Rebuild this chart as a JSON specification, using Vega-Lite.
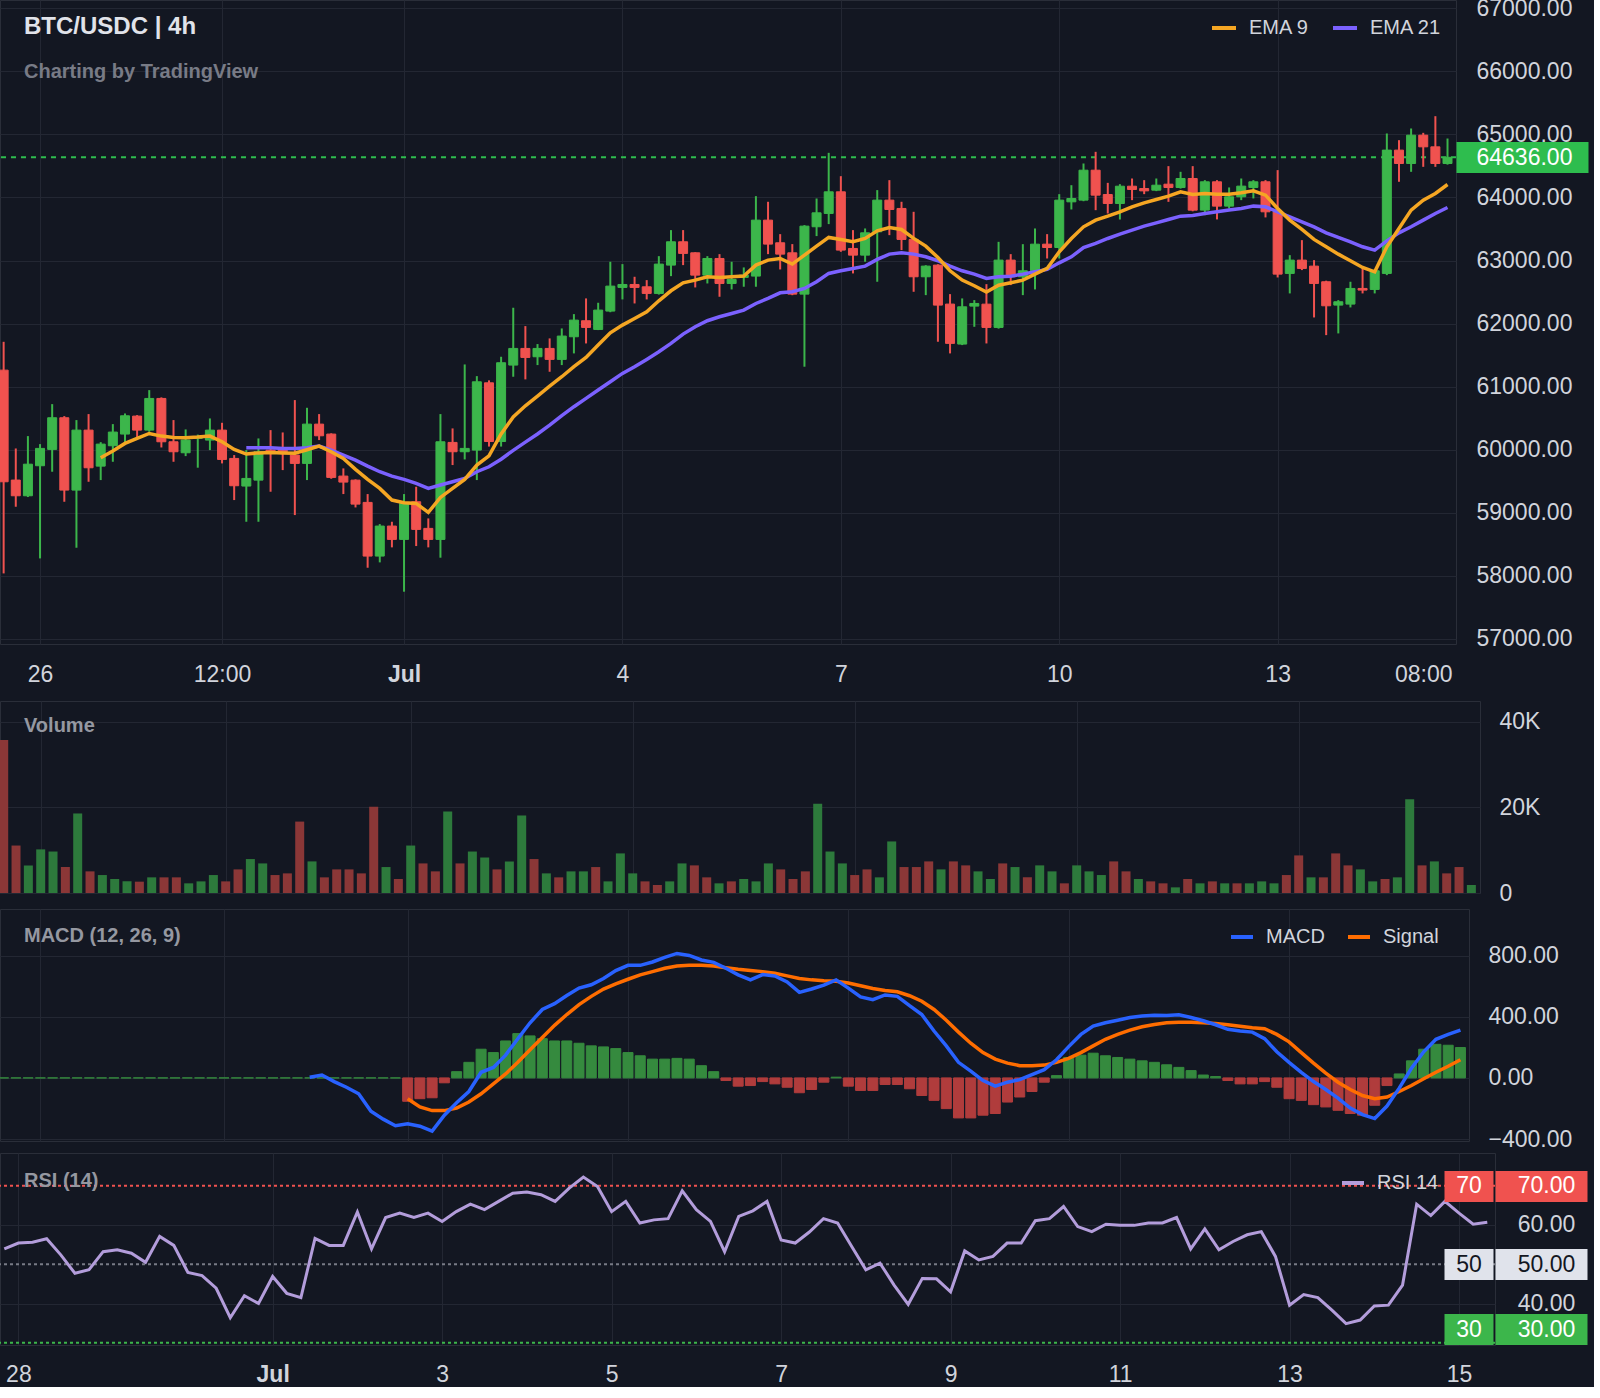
{
"$schema": "https://vega.github.io/schema/vega-lite/v6.json",
"background": "#131722",
"padding": {"left": -3, "top": -4, "right": -10, "bottom": 0},
"datasets": {
"lastprice": [{"price": 64636}],
"levels": [{"level": 70}, {"level": 50}, {"level": 30}],
"candles": [
{"t":"2024-06-25T12:00Z","o":61262,"h":61711,"l":58039,"c":59492,"v":35800,"e9":null,"e21":null,"macd":null,"sig":null,"hist":0,"rsi":null},
{"t":"2024-06-25T16:00Z","o":59519,"h":60020,"l":59096,"c":59270,"v":11100,"e9":null,"e21":null,"macd":null,"sig":null,"hist":0,"rsi":null},
{"t":"2024-06-25T20:00Z","o":59270,"h":60216,"l":59250,"c":59771,"v":6460,"e9":null,"e21":null,"macd":null,"sig":null,"hist":0,"rsi":null},
{"t":"2024-06-26T00:00Z","o":59746,"h":60089,"l":58277,"c":60021,"v":10200,"e9":null,"e21":null,"macd":null,"sig":null,"hist":0,"rsi":null},
{"t":"2024-06-26T04:00Z","o":60005,"h":60723,"l":59651,"c":60507,"v":9700,"e9":null,"e21":null,"macd":null,"sig":null,"hist":0,"rsi":null},
{"t":"2024-06-26T08:00Z","o":60507,"h":60533,"l":59175,"c":59360,"v":6070,"e9":null,"e21":null,"macd":null,"sig":null,"hist":0,"rsi":null},
{"t":"2024-06-26T12:00Z","o":59360,"h":60470,"l":58446,"c":60311,"v":18600,"e9":null,"e21":null,"macd":null,"sig":null,"hist":0,"rsi":null},
{"t":"2024-06-26T16:00Z","o":60311,"h":60565,"l":59492,"c":59714,"v":5060,"e9":null,"e21":null,"macd":null,"sig":null,"hist":0,"rsi":null},
{"t":"2024-06-26T20:00Z","o":59740,"h":60120,"l":59519,"c":60089,"v":4200,"e9":59873,"e21":null,"macd":null,"sig":null,"hist":0,"rsi":null},
{"t":"2024-06-27T00:00Z","o":60063,"h":60406,"l":59809,"c":60280,"v":3270,"e9":59980,"e21":null,"macd":null,"sig":null,"hist":0,"rsi":null},
{"t":"2024-06-27T04:00Z","o":60248,"h":60575,"l":60100,"c":60538,"v":2720,"e9":60100,"e21":null,"macd":null,"sig":null,"hist":0,"rsi":null},
{"t":"2024-06-27T08:00Z","o":60533,"h":60549,"l":60179,"c":60311,"v":2650,"e9":60180,"e21":null,"macd":null,"sig":null,"hist":0,"rsi":null},
{"t":"2024-06-27T12:00Z","o":60311,"h":60945,"l":60285,"c":60813,"v":3660,"e9":60258,"e21":null,"macd":null,"sig":null,"hist":0,"rsi":null},
{"t":"2024-06-27T16:00Z","o":60813,"h":60830,"l":60036,"c":60126,"v":3660,"e9":60216,"e21":null,"macd":null,"sig":null,"hist":0,"rsi":null},
{"t":"2024-06-27T20:00Z","o":60126,"h":60470,"l":59809,"c":59968,"v":3660,"e9":60195,"e21":null,"macd":null,"sig":null,"hist":0,"rsi":53.9},
{"t":"2024-06-28T00:00Z","o":59952,"h":60322,"l":59899,"c":60153,"v":2260,"e9":60190,"e21":null,"macd":null,"sig":null,"hist":0,"rsi":55.4},
{"t":"2024-06-28T04:00Z","o":60180,"h":60240,"l":59715,"c":60200,"v":2720,"e9":60200,"e21":null,"macd":null,"sig":null,"hist":0,"rsi":55.6},
{"t":"2024-06-28T08:00Z","o":60153,"h":60496,"l":59994,"c":60311,"v":4200,"e9":60216,"e21":null,"macd":null,"sig":null,"hist":0,"rsi":56.5},
{"t":"2024-06-28T12:00Z","o":60311,"h":60427,"l":59783,"c":59846,"v":2720,"e9":60126,"e21":null,"macd":null,"sig":null,"hist":0,"rsi":52.4},
{"t":"2024-06-28T16:00Z","o":59862,"h":59915,"l":59202,"c":59429,"v":5520,"e9":60005,"e21":null,"macd":null,"sig":null,"hist":0,"rsi":47.7},
{"t":"2024-06-28T20:00Z","o":59424,"h":59994,"l":58858,"c":59545,"v":7940,"e9":59931,"e21":60031,"macd":null,"sig":null,"hist":0,"rsi":48.6},
{"t":"2024-06-29T00:00Z","o":59518,"h":60179,"l":58858,"c":59968,"v":6920,"e9":59950,"e21":60031,"macd":null,"sig":null,"hist":0,"rsi":53.2},
{"t":"2024-06-29T04:00Z","o":59994,"h":60311,"l":59334,"c":59952,"v":4200,"e9":59955,"e21":60031,"macd":null,"sig":null,"hist":0,"rsi":53.7},
{"t":"2024-06-29T08:00Z","o":59994,"h":60274,"l":59677,"c":59941,"v":4590,"e9":59950,"e21":60021,"macd":null,"sig":null,"hist":0,"rsi":52.8},
{"t":"2024-06-29T12:00Z","o":59915,"h":60787,"l":58964,"c":59783,"v":16700,"e9":59945,"e21":60021,"macd":null,"sig":null,"hist":0,"rsi":50.5},
{"t":"2024-06-29T16:00Z","o":59783,"h":60665,"l":59519,"c":60406,"v":7390,"e9":60000,"e21":60031,"macd":4,"sig":null,"hist":0,"rsi":57.1},
{"t":"2024-06-29T20:00Z","o":60406,"h":60565,"l":60153,"c":60221,"v":3660,"e9":60057,"e21":60057,"macd":19,"sig":null,"hist":0,"rsi":54.8},
{"t":"2024-06-30T00:00Z","o":60248,"h":60260,"l":59540,"c":59561,"v":5520,"e9":59968,"e21":59994,"macd":-24,"sig":null,"hist":0,"rsi":47.9},
{"t":"2024-06-30T04:00Z","o":59582,"h":59704,"l":59297,"c":59487,"v":5520,"e9":59862,"e21":59915,"macd":-61,"sig":null,"hist":0,"rsi":47.1},
{"t":"2024-06-30T08:00Z","o":59518,"h":59530,"l":59085,"c":59138,"v":4590,"e9":59688,"e21":59836,"macd":-104,"sig":null,"hist":0,"rsi":43.9},
{"t":"2024-06-30T12:00Z","o":59165,"h":59297,"l":58129,"c":58314,"v":20150,"e9":59529,"e21":59740,"macd":-218,"sig":null,"hist":0,"rsi":36.4},
{"t":"2024-06-30T16:00Z","o":58314,"h":58821,"l":58214,"c":58790,"v":6070,"e9":59387,"e21":59651,"macd":-270,"sig":null,"hist":0,"rsi":42.0},
{"t":"2024-06-30T20:00Z","o":58790,"h":58858,"l":58452,"c":58578,"v":3270,"e9":59202,"e21":59582,"macd":-313,"sig":null,"hist":0,"rsi":40.0},
{"t":"2024-07-01T00:00Z","o":58578,"h":59297,"l":57749,"c":59149,"v":11100,"e9":59160,"e21":59529,"macd":-300,"sig":-136,"hist":-153,"rsi":46.9},
{"t":"2024-07-01T04:00Z","o":59175,"h":59413,"l":58473,"c":58737,"v":6920,"e9":59149,"e21":59466,"macd":-316,"sig":-190,"hist":-136,"rsi":42.6},
{"t":"2024-07-01T08:00Z","o":58753,"h":58911,"l":58452,"c":58578,"v":5060,"e9":59006,"e21":59387,"macd":-348,"sig":-214,"hist":-130,"rsi":41.5},
{"t":"2024-07-01T12:00Z","o":58578,"h":60565,"l":58288,"c":60126,"v":19060,"e9":59244,"e21":59440,"macd":-244,"sig":-214,"hist":-32,"rsi":56.6},
{"t":"2024-07-01T16:00Z","o":60116,"h":60338,"l":59757,"c":59968,"v":6920,"e9":59387,"e21":59492,"macd":-162,"sig":-197,"hist":41,"rsi":54.8},
{"t":"2024-07-01T20:00Z","o":59968,"h":61352,"l":59846,"c":60021,"v":9700,"e9":59529,"e21":59545,"macd":-89,"sig":-158,"hist":102,"rsi":54.8},
{"t":"2024-07-02T00:00Z","o":59994,"h":61167,"l":59519,"c":61077,"v":8300,"e9":59756,"e21":59651,"macd":37,"sig":-104,"hist":188,"rsi":63.3},
{"t":"2024-07-02T04:00Z","o":61061,"h":61100,"l":60050,"c":60130,"v":5520,"e9":59904,"e21":59730,"macd":69,"sig":-39,"hist":166,"rsi":53.9},
{"t":"2024-07-02T08:00Z","o":60130,"h":61474,"l":60050,"c":61379,"v":7390,"e9":60250,"e21":59850,"macd":149,"sig":26,"hist":242,"rsi":61.9},
{"t":"2024-07-02T12:00Z","o":61342,"h":62251,"l":61157,"c":61606,"v":18130,"e9":60520,"e21":59990,"macd":257,"sig":102,"hist":290,"rsi":63.0},
{"t":"2024-07-02T16:00Z","o":61606,"h":61960,"l":61115,"c":61463,"v":7940,"e9":60697,"e21":60120,"macd":361,"sig":184,"hist":275,"rsi":61.9},
{"t":"2024-07-02T20:00Z","o":61474,"h":61675,"l":61342,"c":61606,"v":4590,"e9":60850,"e21":60250,"macd":448,"sig":264,"hist":257,"rsi":63.0},
{"t":"2024-07-03T00:00Z","o":61606,"h":61765,"l":61236,"c":61432,"v":3660,"e9":61009,"e21":60390,"macd":486,"sig":344,"hist":242,"rsi":60.9},
{"t":"2024-07-03T04:00Z","o":61432,"h":61923,"l":61342,"c":61802,"v":5060,"e9":61157,"e21":60540,"macd":540,"sig":415,"hist":242,"rsi":63.4},
{"t":"2024-07-03T08:00Z","o":61791,"h":62150,"l":61527,"c":62055,"v":5060,"e9":61316,"e21":60682,"macd":588,"sig":480,"hist":227,"rsi":65.3},
{"t":"2024-07-03T12:00Z","o":62045,"h":62399,"l":61685,"c":61939,"v":6070,"e9":61463,"e21":60814,"macd":610,"sig":534,"hist":210,"rsi":63.9},
{"t":"2024-07-03T16:00Z","o":61907,"h":62330,"l":61897,"c":62214,"v":2720,"e9":61659,"e21":60946,"macd":651,"sig":582,"hist":203,"rsi":66.0},
{"t":"2024-07-03T20:00Z","o":62198,"h":62980,"l":62180,"c":62594,"v":9260,"e9":61854,"e21":61078,"macd":703,"sig":616,"hist":192,"rsi":68.1},
{"t":"2024-07-04T00:00Z","o":62573,"h":62943,"l":62383,"c":62620,"v":4590,"e9":61976,"e21":61210,"macd":737,"sig":646,"hist":166,"rsi":68.4},
{"t":"2024-07-04T04:00Z","o":62620,"h":62742,"l":62319,"c":62573,"v":2720,"e9":62081,"e21":61316,"macd":737,"sig":675,"hist":145,"rsi":67.7},
{"t":"2024-07-04T08:00Z","o":62583,"h":62689,"l":62383,"c":62478,"v":1870,"e9":62187,"e21":61432,"macd":759,"sig":696,"hist":123,"rsi":66.0},
{"t":"2024-07-04T12:00Z","o":62478,"h":63069,"l":62460,"c":62943,"v":2720,"e9":62361,"e21":61553,"macd":789,"sig":718,"hist":123,"rsi":69.4},
{"t":"2024-07-04T16:00Z","o":62927,"h":63482,"l":62752,"c":63297,"v":6920,"e9":62520,"e21":61685,"macd":815,"sig":733,"hist":128,"rsi":72.2},
{"t":"2024-07-04T20:00Z","o":63297,"h":63482,"l":62927,"c":63112,"v":6460,"e9":62647,"e21":61833,"macd":802,"sig":737,"hist":123,"rsi":69.8},
{"t":"2024-07-05T00:00Z","o":63122,"h":63130,"l":62573,"c":62768,"v":3660,"e9":62689,"e21":61950,"macd":772,"sig":737,"hist":80,"rsi":63.4},
{"t":"2024-07-05T04:00Z","o":62768,"h":63069,"l":62636,"c":63032,"v":2260,"e9":62742,"e21":62045,"macd":757,"sig":733,"hist":41,"rsi":66.0},
{"t":"2024-07-05T08:00Z","o":63032,"h":63101,"l":62425,"c":62636,"v":2720,"e9":62731,"e21":62108,"macd":718,"sig":722,"hist":-17,"rsi":60.5},
{"t":"2024-07-05T12:00Z","o":62636,"h":62980,"l":62541,"c":62700,"v":3270,"e9":62742,"e21":62160,"macd":675,"sig":711,"hist":-54,"rsi":61.3},
{"t":"2024-07-05T16:00Z","o":62732,"h":62890,"l":62584,"c":62768,"v":2720,"e9":62753,"e21":62214,"macd":642,"sig":703,"hist":-50,"rsi":61.6},
{"t":"2024-07-05T20:00Z","o":62753,"h":64020,"l":62584,"c":63640,"v":6920,"e9":62927,"e21":62319,"macd":677,"sig":696,"hist":-24,"rsi":68.7},
{"t":"2024-07-06T00:00Z","o":63640,"h":63931,"l":63101,"c":63260,"v":5520,"e9":63006,"e21":62399,"macd":668,"sig":685,"hist":-39,"rsi":63.9},
{"t":"2024-07-06T04:00Z","o":63281,"h":63418,"l":62858,"c":63101,"v":3270,"e9":63032,"e21":62488,"macd":629,"sig":668,"hist":-61,"rsi":60.9},
{"t":"2024-07-06T08:00Z","o":63122,"h":63260,"l":62450,"c":62467,"v":5060,"e9":62943,"e21":62504,"macd":560,"sig":651,"hist":-97,"rsi":53.2},
{"t":"2024-07-06T12:00Z","o":62467,"h":63561,"l":61316,"c":63545,"v":20900,"e9":63085,"e21":62557,"macd":582,"sig":642,"hist":-76,"rsi":62.2},
{"t":"2024-07-06T16:00Z","o":63535,"h":63983,"l":63387,"c":63756,"v":9700,"e9":63228,"e21":62663,"macd":608,"sig":636,"hist":-28,"rsi":63.6},
{"t":"2024-07-06T20:00Z","o":63746,"h":64707,"l":63577,"c":64089,"v":6920,"e9":63366,"e21":62795,"macd":642,"sig":633,"hist":5,"rsi":66.0},
{"t":"2024-07-07T00:00Z","o":64089,"h":64337,"l":63138,"c":63165,"v":4200,"e9":63334,"e21":62837,"macd":588,"sig":621,"hist":-54,"rsi":56.2},
{"t":"2024-07-07T04:00Z","o":63191,"h":63482,"l":62795,"c":63085,"v":5520,"e9":63297,"e21":62874,"macd":530,"sig":603,"hist":-82,"rsi":55.4},
{"t":"2024-07-07T08:00Z","o":63085,"h":63508,"l":62980,"c":63439,"v":3660,"e9":63350,"e21":62911,"macd":512,"sig":586,"hist":-82,"rsi":58.2},
{"t":"2024-07-07T12:00Z","o":63455,"h":64116,"l":62663,"c":63957,"v":12060,"e9":63471,"e21":63017,"macd":543,"sig":573,"hist":-43,"rsi":61.6},
{"t":"2024-07-07T16:00Z","o":63957,"h":64274,"l":63402,"c":63809,"v":6070,"e9":63524,"e21":63101,"macd":534,"sig":564,"hist":-43,"rsi":60.5},
{"t":"2024-07-07T20:00Z","o":63825,"h":63931,"l":63165,"c":63334,"v":6070,"e9":63492,"e21":63122,"macd":473,"sig":538,"hist":-71,"rsi":54.5},
{"t":"2024-07-08T00:00Z","o":63334,"h":63772,"l":62504,"c":62742,"v":7390,"e9":63350,"e21":63101,"macd":415,"sig":502,"hist":-115,"rsi":48.6},
{"t":"2024-07-08T04:00Z","o":62742,"h":62925,"l":62451,"c":62911,"v":5520,"e9":63228,"e21":63059,"macd":307,"sig":448,"hist":-147,"rsi":50.3},
{"t":"2024-07-08T08:00Z","o":62927,"h":62940,"l":61712,"c":62293,"v":7390,"e9":63048,"e21":62996,"macd":210,"sig":378,"hist":-201,"rsi":44.7},
{"t":"2024-07-08T12:00Z","o":62309,"h":62467,"l":61527,"c":61686,"v":6460,"e9":62837,"e21":62911,"macd":102,"sig":300,"hist":-262,"rsi":39.8},
{"t":"2024-07-08T16:00Z","o":61675,"h":62399,"l":61659,"c":62266,"v":5060,"e9":62689,"e21":62837,"macd":45,"sig":227,"hist":-262,"rsi":46.4},
{"t":"2024-07-08T20:00Z","o":62277,"h":62372,"l":61949,"c":62319,"v":3270,"e9":62600,"e21":62784,"macd":-17,"sig":166,"hist":-244,"rsi":46.3},
{"t":"2024-07-09T00:00Z","o":62308,"h":62625,"l":61685,"c":61939,"v":6920,"e9":62500,"e21":62715,"macd":-54,"sig":123,"hist":-233,"rsi":43.0},
{"t":"2024-07-09T04:00Z","o":61939,"h":63296,"l":61920,"c":63006,"v":6070,"e9":62609,"e21":62741,"macd":-28,"sig":97,"hist":-158,"rsi":53.4},
{"t":"2024-07-09T08:00Z","o":63006,"h":63101,"l":62610,"c":62742,"v":3660,"e9":62646,"e21":62752,"macd":-11,"sig":80,"hist":-125,"rsi":51.1},
{"t":"2024-07-09T12:00Z","o":62742,"h":63259,"l":62451,"c":62837,"v":6460,"e9":62689,"e21":62784,"macd":22,"sig":80,"hist":-89,"rsi":52.0},
{"t":"2024-07-09T16:00Z","o":62837,"h":63508,"l":62541,"c":63259,"v":5060,"e9":62784,"e21":62821,"macd":54,"sig":84,"hist":-28,"rsi":55.4},
{"t":"2024-07-09T20:00Z","o":63259,"h":63418,"l":63032,"c":63206,"v":2260,"e9":62874,"e21":62858,"macd":119,"sig":102,"hist":15,"rsi":55.4},
{"t":"2024-07-10T00:00Z","o":63206,"h":64052,"l":63032,"c":63957,"v":6460,"e9":63138,"e21":62963,"macd":205,"sig":128,"hist":134,"rsi":61.1},
{"t":"2024-07-10T04:00Z","o":63930,"h":64194,"l":63809,"c":63983,"v":5060,"e9":63349,"e21":63058,"macd":285,"sig":166,"hist":149,"rsi":61.6},
{"t":"2024-07-10T08:00Z","o":63957,"h":64538,"l":63940,"c":64432,"v":4200,"e9":63534,"e21":63206,"macd":339,"sig":210,"hist":162,"rsi":64.7},
{"t":"2024-07-10T12:00Z","o":64432,"h":64723,"l":63798,"c":64036,"v":7390,"e9":63640,"e21":63270,"macd":361,"sig":253,"hist":145,"rsi":59.6},
{"t":"2024-07-10T16:00Z","o":64046,"h":64231,"l":63745,"c":63904,"v":5060,"e9":63703,"e21":63349,"macd":378,"sig":285,"hist":134,"rsi":58.3},
{"t":"2024-07-10T20:00Z","o":63904,"h":64210,"l":63650,"c":64178,"v":3270,"e9":63772,"e21":63418,"macd":396,"sig":313,"hist":123,"rsi":60.2},
{"t":"2024-07-11T00:00Z","o":64178,"h":64300,"l":63957,"c":64126,"v":2720,"e9":63851,"e21":63481,"macd":406,"sig":335,"hist":112,"rsi":59.9},
{"t":"2024-07-11T04:00Z","o":64141,"h":64274,"l":64052,"c":64104,"v":2260,"e9":63914,"e21":63545,"macd":411,"sig":350,"hist":102,"rsi":59.9},
{"t":"2024-07-11T08:00Z","o":64115,"h":64300,"l":64100,"c":64194,"v":1320,"e9":63967,"e21":63597,"macd":409,"sig":361,"hist":86,"rsi":60.5},
{"t":"2024-07-11T12:00Z","o":64210,"h":64496,"l":63930,"c":64157,"v":3270,"e9":64020,"e21":63650,"macd":413,"sig":365,"hist":69,"rsi":60.5},
{"t":"2024-07-11T16:00Z","o":64157,"h":64406,"l":64140,"c":64300,"v":2260,"e9":64089,"e21":63703,"macd":396,"sig":365,"hist":48,"rsi":61.9},
{"t":"2024-07-11T20:00Z","o":64300,"h":64496,"l":63780,"c":63798,"v":2720,"e9":64046,"e21":63714,"macd":374,"sig":361,"hist":19,"rsi":53.9},
{"t":"2024-07-12T00:00Z","o":63799,"h":64274,"l":63719,"c":64248,"v":2260,"e9":64062,"e21":63745,"macd":348,"sig":357,"hist":9,"rsi":59.0},
{"t":"2024-07-12T04:00Z","o":64248,"h":64274,"l":63651,"c":63862,"v":2260,"e9":64052,"e21":63772,"macd":318,"sig":348,"hist":-17,"rsi":53.7},
{"t":"2024-07-12T08:00Z","o":63862,"h":64158,"l":63825,"c":64010,"v":2260,"e9":64052,"e21":63799,"macd":307,"sig":339,"hist":-39,"rsi":55.8},
{"t":"2024-07-12T12:00Z","o":64010,"h":64300,"l":63957,"c":64179,"v":2720,"e9":64073,"e21":63825,"macd":300,"sig":329,"hist":-39,"rsi":57.5},
{"t":"2024-07-12T16:00Z","o":64158,"h":64274,"l":63984,"c":64248,"v":2260,"e9":64105,"e21":63862,"macd":257,"sig":322,"hist":-24,"rsi":58.3},
{"t":"2024-07-12T20:00Z","o":64248,"h":64274,"l":63683,"c":63772,"v":4200,"e9":64036,"e21":63851,"macd":171,"sig":285,"hist":-61,"rsi":52.0},
{"t":"2024-07-13T00:00Z","o":63772,"h":64433,"l":62731,"c":62784,"v":8790,"e9":63825,"e21":63772,"macd":102,"sig":236,"hist":-136,"rsi":39.6},
{"t":"2024-07-13T04:00Z","o":62795,"h":63085,"l":62478,"c":63006,"v":3660,"e9":63640,"e21":63693,"macd":37,"sig":166,"hist":-147,"rsi":42.3},
{"t":"2024-07-13T08:00Z","o":63006,"h":63323,"l":62848,"c":62874,"v":3660,"e9":63492,"e21":63614,"macd":-24,"sig":97,"hist":-175,"rsi":41.5},
{"t":"2024-07-13T12:00Z","o":62911,"h":63006,"l":62097,"c":62636,"v":9260,"e9":63334,"e21":63534,"macd":-76,"sig":32,"hist":-190,"rsi":38.3},
{"t":"2024-07-13T16:00Z","o":62663,"h":62680,"l":61817,"c":62282,"v":6460,"e9":63217,"e21":63439,"macd":-132,"sig":-28,"hist":-212,"rsi":34.9},
{"t":"2024-07-13T20:00Z","o":62293,"h":62372,"l":61844,"c":62346,"v":5520,"e9":63101,"e21":63365,"macd":-197,"sig":-76,"hist":-233,"rsi":35.8},
{"t":"2024-07-14T00:00Z","o":62309,"h":62663,"l":62256,"c":62557,"v":2720,"e9":62996,"e21":63297,"macd":-240,"sig":-115,"hist":-244,"rsi":39.4},
{"t":"2024-07-14T04:00Z","o":62557,"h":62874,"l":62478,"c":62531,"v":3270,"e9":62890,"e21":63217,"macd":-266,"sig":-136,"hist":-179,"rsi":39.6},
{"t":"2024-07-14T08:00Z","o":62541,"h":62858,"l":62478,"c":62837,"v":3660,"e9":62821,"e21":63165,"macd":-184,"sig":-125,"hist":-50,"rsi":44.7},
{"t":"2024-07-14T12:00Z","o":62795,"h":65014,"l":62768,"c":64750,"v":21940,"e9":63217,"e21":63312,"macd":-67,"sig":-89,"hist":26,"rsi":65.3},
{"t":"2024-07-14T16:00Z","o":64750,"h":64908,"l":64248,"c":64538,"v":6460,"e9":63508,"e21":63439,"macd":63,"sig":-50,"hist":112,"rsi":62.4},
{"t":"2024-07-14T20:00Z","o":64538,"h":65093,"l":64406,"c":64987,"v":7390,"e9":63799,"e21":63534,"macd":171,"sig":-6,"hist":188,"rsi":66.0},
{"t":"2024-07-15T00:00Z","o":64987,"h":65024,"l":64485,"c":64802,"v":4590,"e9":63957,"e21":63640,"macd":253,"sig":37,"hist":220,"rsi":63.0},
{"t":"2024-07-15T04:00Z","o":64802,"h":65288,"l":64485,"c":64538,"v":6070,"e9":64063,"e21":63746,"macd":285,"sig":76,"hist":214,"rsi":60.2},
{"t":"2024-07-15T08:00Z","o":64538,"h":64934,"l":64520,"c":64636,"v":1870,"e9":64205,"e21":63841,"macd":313,"sig":119,"hist":199,"rsi":60.7}
]
},
"spacing": 13,
"vconcat": [
{
"width": 1456, "height": 644,
"title": {"text": "BTC/USDC | 4h", "subtitle": "Charting by TradingView", "offset": -85, "dx": 24, "fontSize": 24, "fontWeight": "bold", "color": "#e1e3ea", "subtitleFont": "Liberation Sans", "subtitleFontSize": 20, "subtitleFontWeight": "bold", "subtitleColor": "#787b86", "subtitlePadding": 23},
"layer": [
{
"data": {"name": "lastprice"},
"mark": {"type": "rule", "color": "#2ebd4e", "strokeWidth": 2, "strokeDash": [5, 5]},
"encoding": {
"y": {"field": "price", "type": "quantitative", "title": null, "scale": {"domain": [56920, 67130], "zero": false, "nice": false},
"axis": {"orient": "right", "values": [64636], "format": ".2f", "grid": false, "ticks": true, "tickSize": 132, "tickWidth": 31, "tickColor": "#2ebd4e", "labelPadding": -112, "labelColor": "#ffffff", "zindex": 1}}
}
},
{
"data": {"name": "candles"},
"layer": [
{
"mark": {"type": "rule", "strokeWidth": 2},
"encoding": {
"x": {"field": "t", "type": "temporal", "title": null,
"scale": {"type": "utc", "padding": 0, "domain": [{"year": 2024, "month": "jun", "date": 25, "hours": 10, "minutes": 48, "utc": true}, {"year": 2024, "month": "jul", "date": 15, "hours": 10, "minutes": 48, "utc": true}]},
"axis": {"values": [{"year": 2024, "month": "jun", "date": 26, "utc": true}, {"year": 2024, "month": "jun", "date": 28, "hours": 12, "utc": true}, {"year": 2024, "month": "jul", "date": 1, "utc": true}, {"year": 2024, "month": "jul", "date": 4, "utc": true}, {"year": 2024, "month": "jul", "date": 7, "utc": true}, {"year": 2024, "month": "jul", "date": 10, "utc": true}, {"year": 2024, "month": "jul", "date": 13, "utc": true}, {"year": 2024, "month": "jul", "date": 15, "utc": true}],
"labelExpr": "utchours(datum.value) == 12 ? '12:00' : utcdate(datum.value) == 15 ? '08:00' : utcdate(datum.value) == 1 ? 'Jul' : utcFormat(datum.value, '%-d')",
"labelFontWeight": {"condition": {"test": "utcdate(datum.value) == 1", "value": "bold"}, "value": "normal"},
"labelPadding": 19, "labelFlush": false, "labelOverlap": false, "grid": true,
"gridOpacity": {"condition": {"test": "utcdate(datum.value) == 15", "value": 0}, "value": 1}}},
"y": {"field": "l", "type": "quantitative", "title": null, "scale": {"domain": [56920, 67130], "zero": false, "nice": false},
"axis": {"orient": "right", "values": [57000, 58000, 59000, 60000, 61000, 62000, 63000, 64000, 65000, 66000, 67000], "format": ".2f", "labelPadding": 20, "grid": true, "labelOverlap": false}},
"y2": {"field": "h"},
"stroke": {"condition": {"test": "datum.c >= datum.o", "value": "#3cb64b"}, "value": "#f0524f"}
}
},
{
"mark": {"type": "bar", "width": 9, "strokeWidth": 1},
"encoding": {
"x": {"field": "t", "type": "temporal"},
"y": {"field": "o", "type": "quantitative", "title": null},
"y2": {"field": "c"},
"fill": {"condition": {"test": "datum.c >= datum.o", "value": "#3cb64b"}, "value": "#f0524f"},
"stroke": {"condition": {"test": "datum.c >= datum.o", "value": "#3cb64b"}, "value": "#f0524f"}
}
},
{
"mark": {"type": "line", "strokeWidth": 3.5},
"encoding": {
"x": {"field": "t", "type": "temporal"},
"y": {"field": "e21", "type": "quantitative", "title": null},
"color": {"datum": "EMA 21", "type": "nominal"}
}
},
{
"mark": {"type": "line", "strokeWidth": 3.5},
"encoding": {
"x": {"field": "t", "type": "temporal"},
"y": {"field": "e9", "type": "quantitative", "title": null},
"color": {"datum": "EMA 9", "type": "nominal", "scale": {"domain": ["EMA 9", "EMA 21"], "range": ["#f5a623", "#7b61ff"]},
"legend": {"orient": "none", "legendX": 1210, "legendY": 14, "direction": "horizontal", "title": null, "symbolSize": 576}}
}
}
]
}
],
"resolve": {"scale": {"y": "independent"}}
},
{
"spacing": 2,
"vconcat": [
{
"width": 1480, "height": 192,
"title": {"text": "Volume", "offset": -35, "dx": 24, "fontSize": 20, "fontWeight": "bold", "color": "#9598a1"},
"data": {"name": "candles"},
"mark": {"type": "bar", "width": 9},
"encoding": {
"x": {"field": "t", "type": "temporal", "title": null,
"scale": {"type": "utc", "padding": 0, "domain": [{"year": 2024, "month": "jun", "date": 25, "hours": 10, "minutes": 48, "utc": true}, {"year": 2024, "month": "jul", "date": 15, "hours": 10, "minutes": 48, "utc": true}]},
"axis": {"values": [{"year": 2024, "month": "jun", "date": 26, "utc": true}, {"year": 2024, "month": "jun", "date": 28, "hours": 12, "utc": true}, {"year": 2024, "month": "jul", "date": 1, "utc": true}, {"year": 2024, "month": "jul", "date": 4, "utc": true}, {"year": 2024, "month": "jul", "date": 7, "utc": true}, {"year": 2024, "month": "jul", "date": 10, "utc": true}, {"year": 2024, "month": "jul", "date": 13, "utc": true}], "labels": false, "grid": true}},
"y": {"field": "v", "type": "quantitative", "title": null, "scale": {"domain": [0, 44900], "nice": false},
"axis": {"orient": "right", "values": [0, 20000, 40000], "labelExpr": "datum.value == 0 ? '0' : (datum.value / 1000) + 'K'", "labelPadding": 19, "grid": true}},
"color": {"condition": {"test": "datum.c >= datum.o", "value": "#2d7a3c"}, "value": "#8b3737"}
}
},
{
"spacing": 0,
"vconcat": [
{
"width": 1469, "height": 232,
"title": {"text": "MACD (12, 26, 9)", "offset": -36.5, "dx": 24, "fontSize": 20, "fontWeight": "bold", "color": "#9598a1"},
"data": {"name": "candles"},
"layer": [
{
"mark": {"type": "bar", "width": 10, "strokeWidth": 1},
"encoding": {
"x": {"field": "t", "type": "temporal", "title": null,
"scale": {"type": "utc", "padding": 0, "domain": [{"year": 2024, "month": "jun", "date": 25, "hours": 10, "minutes": 48, "utc": true}, {"year": 2024, "month": "jul", "date": 15, "hours": 10, "minutes": 48, "utc": true}]},
"axis": {"values": [{"year": 2024, "month": "jun", "date": 26, "utc": true}, {"year": 2024, "month": "jun", "date": 28, "hours": 12, "utc": true}, {"year": 2024, "month": "jul", "date": 1, "utc": true}, {"year": 2024, "month": "jul", "date": 4, "utc": true}, {"year": 2024, "month": "jul", "date": 7, "utc": true}, {"year": 2024, "month": "jul", "date": 10, "utc": true}, {"year": 2024, "month": "jul", "date": 13, "utc": true}], "labels": false, "grid": true}},
"y": {"field": "hist", "type": "quantitative", "title": null, "scale": {"domain": [-413, 1106], "zero": false, "nice": false},
"axis": {"orient": "right", "values": [-400, 0, 400, 800], "format": ".2f", "labelPadding": 19, "grid": true}},
"y2": {"datum": 0},
"fill": {"condition": {"test": "datum.hist >= 0", "value": "#358a3e"}, "value": "#b03c3c"},
"stroke": {"condition": {"test": "datum.hist >= 0", "value": "#358a3e"}, "value": "#b03c3c"}
}
},
{
"mark": {"type": "line", "strokeWidth": 3.5},
"encoding": {
"x": {"field": "t", "type": "temporal"},
"y": {"field": "sig", "type": "quantitative", "title": null},
"color": {"datum": "Signal", "type": "nominal"}
}
},
{
"mark": {"type": "line", "strokeWidth": 3.5},
"encoding": {
"x": {"field": "t", "type": "temporal"},
"y": {"field": "macd", "type": "quantitative", "title": null},
"color": {"datum": "MACD", "type": "nominal", "scale": {"domain": ["MACD", "Signal"], "range": ["#2962ff", "#ff6d00"]},
"legend": {"orient": "none", "legendX": 1229, "legendY": 15, "direction": "horizontal", "title": null, "symbolSize": 484}}
}
}
]
},
{
"width": 1495, "height": 192,
"title": {"text": "RSI (14)", "offset": -38, "dx": 24, "fontSize": 20, "fontWeight": "bold", "color": "#9598a1"},
"layer": [
{
"data": {"name": "levels"},
"mark": {"type": "rule", "strokeWidth": 2, "strokeDash": [3, 3]},
"encoding": {
"y": {"field": "level", "type": "quantitative", "title": null, "scale": {"domain": [29.45, 78.32], "zero": false, "nice": false},
"axis": {"orient": "right", "offset": -51, "values": [33.4, 50, 70], "grid": false, "ticks": true, "tickSize": 49, "tickWidth": 31,
"tickColor": {"condition": [{"test": "datum.value == 70", "value": "#f0524f"}, {"test": "datum.value == 50", "value": "#e0e3eb"}], "value": "#3cb64b"},
"labelExpr": "datum.value < 35 ? '30' : format(datum.value, 'd')",
"labelAlign": "center", "labelPadding": -24.5, "labelOverlap": false,
"labelColor": {"condition": {"test": "datum.value == 50", "value": "#131722"}, "value": "#ffffff"}, "zindex": 1}},
"stroke": {"field": "level", "type": "nominal", "scale": {"domain": [70, 50, 30], "range": ["#f0524f", "#787b86", "#3cb64b"]}, "legend": null}
}
},
{
"data": {"name": "candles"},
"mark": {"type": "line", "strokeWidth": 3},
"encoding": {
"x": {"field": "t", "type": "temporal", "title": null,
"scale": {"type": "utc", "domain": [{"year": 2024, "month": "jun", "date": 27, "hours": 18, "minutes": 47, "utc": true}, {"year": 2024, "month": "jul", "date": 15, "hours": 10, "minutes": 11, "utc": true}]},
"axis": {"values": [{"year": 2024, "month": "jun", "date": 28, "utc": true}, {"year": 2024, "month": "jul", "date": 1, "utc": true}, {"year": 2024, "month": "jul", "date": 3, "utc": true}, {"year": 2024, "month": "jul", "date": 5, "utc": true}, {"year": 2024, "month": "jul", "date": 7, "utc": true}, {"year": 2024, "month": "jul", "date": 9, "utc": true}, {"year": 2024, "month": "jul", "date": 11, "utc": true}, {"year": 2024, "month": "jul", "date": 13, "utc": true}, {"year": 2024, "month": "jul", "date": 15, "utc": true}],
"labelExpr": "utcdate(datum.value) == 1 ? 'Jul' : utcFormat(datum.value, '%-d')",
"labelFontWeight": {"condition": {"test": "utcdate(datum.value) == 1", "value": "bold"}, "value": "normal"},
"labelPadding": 18, "labelFlush": false, "labelOverlap": false, "grid": true}},
"y": {"field": "rsi", "type": "quantitative", "title": null, "scale": {"domain": [29.45, 78.32], "zero": false, "nice": false},
"axis": {"orient": "right", "values": [33.4, 40, 50, 60, 70], "ticks": true, "tickSize": 92, "tickWidth": 31,
"labelExpr": "datum.value < 35 ? '30.00' : format(datum.value, '.2f')",
"tickColor": {"condition": [{"test": "datum.value == 70", "value": "#f0524f"}, {"test": "datum.value == 50", "value": "#e0e3eb"}, {"test": "datum.value < 35", "value": "#3cb64b"}], "value": "transparent"},
"labelAlign": "center", "labelPadding": -41, "labelOverlap": false,
"labelColor": {"condition": [{"test": "datum.value == 50", "value": "#131722"}, {"test": "datum.value == 70 || datum.value < 35", "value": "#ffffff"}], "value": "#d1d4dc"},
"grid": true, "gridOpacity": {"condition": {"test": "datum.value == 40 || datum.value == 60", "value": 1}, "value": 0}}},
"color": {"datum": "RSI 14", "type": "nominal", "scale": {"domain": ["RSI 14"], "range": ["#b39ddb"]},
"legend": {"orient": "none", "legendX": 1340, "legendY": 17, "title": null, "symbolSize": 484}}
}
}
],
"resolve": {"scale": {"y": "independent"}}
}
],
"resolve": {"scale": {"x": "independent", "y": "independent", "color": "independent", "fill": "independent", "stroke": "independent"}, "axis": {"x": "independent", "y": "independent"}, "legend": {"color": "independent", "stroke": "independent"}}
}
],
"resolve": {"scale": {"x": "independent", "y": "independent", "color": "independent", "fill": "independent", "stroke": "independent"}, "axis": {"x": "independent", "y": "independent"}, "legend": {"color": "independent", "stroke": "independent"}}
}
],
"resolve": {"scale": {"x": "independent", "y": "independent", "color": "independent", "fill": "independent", "stroke": "independent"}, "axis": {"x": "independent", "y": "independent"}, "legend": {"color": "independent", "stroke": "independent"}},
"config": {
"font": "Liberation Sans",
"view": {"stroke": "#2a2e39", "strokeWidth": 1},
"axis": {"labelFont": "Liberation Sans", "labelFontSize": 23, "labelColor": "#d1d4dc", "gridColor": "#232733", "gridWidth": 1, "domain": false, "ticks": false},
"legend": {"labelFont": "Liberation Sans", "labelFontSize": 20, "labelColor": "#d1d4dc", "symbolType": "stroke", "symbolStrokeWidth": 4, "padding": 0, "labelOffset": 11, "columnPadding": 15, "gridAlign": "none"},
"title": {"font": "Liberation Sans", "anchor": "start", "frame": "group"}
}
}
